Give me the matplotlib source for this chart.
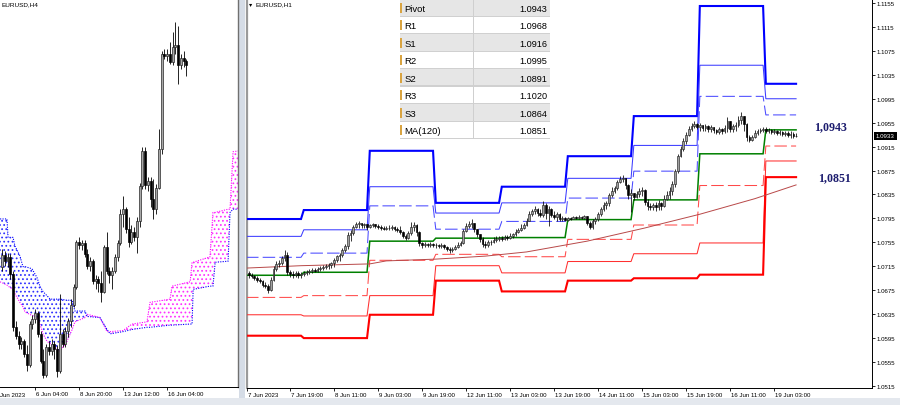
import numpy as np
import matplotlib
matplotlib.use("Agg")
import matplotlib.pyplot as plt
from matplotlib.patches import Rectangle
from matplotlib import transforms as mtrans

plt.rcParams['font.family'] = ['Liberation Sans', 'DejaVu Sans']
plt.rcParams['hatch.linewidth'] = 0.75

# ======================= DATA =======================
# ---- H4 panel (bar index 0 = 6 Jun 04:00) ----
h4_bar = list(range(-12, 56))
h4_open = [1.0753, 1.0764, 1.0758, 1.0762, 1.0746, 1.0697, 1.0689, 1.0682, 1.0684, 1.0672,
           1.0662, 1.0700, 1.0705, 1.0710, 1.0691, 1.0666, 1.0653, 1.0679, 1.0675, 1.0682,
           1.0677, 1.0657, 1.0691, 1.0682, 1.0694, 1.0703, 1.0718, 1.0734, 1.0776, 1.0773,
           1.0775, 1.0765, 1.0754, 1.0758, 1.0740, 1.0742, 1.0738, 1.0730, 1.0771, 1.0749,
           1.0745, 1.0749, 1.0762, 1.0775, 1.0802, 1.0806, 1.0788, 1.0776, 1.0785, 1.0780,
           1.0795, 1.0827, 1.0860, 1.0828, 1.0832, 1.0815, 1.0806, 1.0826, 1.0862, 1.0949,
           1.0947, 1.0949, 1.0942, 1.0956, 1.0958, 1.0939, 1.0946, 1.0943]
h4_close = [1.0764, 1.0758, 1.0762, 1.0746, 1.0697, 1.0689, 1.0682, 1.0684, 1.0672, 1.0662,
            1.0700, 1.0705, 1.0710, 1.0691, 1.0666, 1.0653, 1.0679, 1.0675, 1.0682, 1.0677,
            1.0657, 1.0691, 1.0682, 1.0694, 1.0703, 1.0718, 1.0734, 1.0776, 1.0773, 1.0775,
            1.0765, 1.0754, 1.0758, 1.0740, 1.0742, 1.0738, 1.0730, 1.0771, 1.0749, 1.0745,
            1.0749, 1.0762, 1.0775, 1.0802, 1.0806, 1.0788, 1.0776, 1.0785, 1.0780, 1.0795,
            1.0827, 1.0860, 1.0828, 1.0832, 1.0815, 1.0806, 1.0826, 1.0862, 1.0949, 1.0947,
            1.0949, 1.0942, 1.0956, 1.0958, 1.0939, 1.0946, 1.0943, 1.0939]
h4_high = [1.0769, 1.0767, 1.0766, 1.0765, 1.0749, 1.0703, 1.0694, 1.0688, 1.0686, 1.0681,
           1.0703, 1.0708, 1.0714, 1.0712, 1.0694, 1.0677, 1.0682, 1.0684, 1.0686, 1.0684,
           1.0681, 1.0728, 1.0695, 1.0697, 1.0706, 1.0723, 1.0737, 1.0778, 1.0780, 1.0778,
           1.0778, 1.0769, 1.0762, 1.0760, 1.0745, 1.0744, 1.0749, 1.0773, 1.0785, 1.0753,
           1.0753, 1.0765, 1.0778, 1.0806, 1.0818, 1.0808, 1.0799, 1.0791, 1.0790, 1.0799,
           1.0830, 1.0863, 1.0863, 1.0836, 1.0836, 1.0834, 1.0829, 1.0880, 1.0952, 1.0954,
           1.0954, 1.0960, 1.0970, 1.0979, 1.0975, 1.0949, 1.0952, 1.0945]
h4_low = [1.0749, 1.0754, 1.0753, 1.0742, 1.0694, 1.0686, 1.0677, 1.0677, 1.0670, 1.0657,
          1.0660, 1.0695, 1.0701, 1.0688, 1.0664, 1.0650, 1.0651, 1.0671, 1.0671, 1.0668,
          1.0651, 1.0655, 1.0679, 1.0679, 1.0688, 1.0697, 1.0716, 1.0732, 1.0769, 1.0768,
          1.0762, 1.0751, 1.0749, 1.0737, 1.0732, 1.0730, 1.0720, 1.0729, 1.0746, 1.0738,
          1.0732, 1.0747, 1.0758, 1.0773, 1.0790, 1.0784, 1.0771, 1.0774, 1.0777, 1.0766,
          1.0790, 1.0825, 1.0825, 1.0823, 1.0808, 1.0797, 1.0802, 1.0825, 1.0857, 1.0945,
          1.0943, 1.0940, 1.0939, 1.0949, 1.0922, 1.0935, 1.0937, 1.0929]

# Ichimoku cloud (Senkou span A = magenta, span B = blue)
cloud_bar = [-12.7, -10.2, -9.8, -8.0, -7.3, -5.5, -4.4, -3.6, -1.1, 0.7, 1.8, 2.9, 4.4, 5.5,
             6.2, 9.1, 11.6, 13.5, 14.5, 18.2, 18.9, 23.6, 26.2, 27.3, 32.0, 35.3, 40.7, 41.8,
             49.1, 49.8, 56.4, 57.1, 57.5, 63.6, 64.7, 65.5, 70.2, 70.9, 72.0, 74.5]
span_a = [1.0739, 1.0736, 1.0735, 1.0732, 1.0728, 1.0720, 1.0716, 1.0711, 1.0708, 1.0706,
          1.0700, 1.0691, 1.0684, 1.0682, 1.0680, 1.0675, 1.0684, 1.0695, 1.0702, 1.0706,
          1.0709, 1.0706, 1.0693, 1.0693, 1.0694, 1.0700, 1.0702, 1.0720, 1.0723, 1.0735,
          1.0739, 1.0757, 1.0757, 1.0762, 1.0803, 1.0803, 1.0806, 1.0806, 1.0859, 1.0860]
span_b = [1.0797, 1.0797, 1.0780, 1.0780, 1.0772, 1.0763, 1.0753, 1.0753, 1.0751, 1.0743,
          1.0735, 1.0730, 1.0726, 1.0723, 1.0723, 1.0723, 1.0722, 1.0722, 1.0712, 1.0712,
          1.0707, 1.0706, 1.0695, 1.0691, 1.0693, 1.0695, 1.0697, 1.0697, 1.0699, 1.0699,
          1.0700, 1.0700, 1.0732, 1.0735, 1.0735, 1.0757, 1.0758, 1.0803, 1.0806, 1.0806]

h4_tick_bars = [0, 16, 32, 48]
h4_tick_labels = ['6 Jun 04:00', '8 Jun 20:00', '13 Jun 12:00', '16 Jun 04:00']
h4_first_label = 'Jun 2023'

# ---- H1 panel (hour index: 0 = 7 Jun 00:00, weekend skipped) ----
h1_hour = list(range(4, 204))
h1_first_open = 1.0704
h1_close = [1.0701, 1.0699, 1.0696, 1.0692, 1.0691, 1.0684, 1.0682, 1.0675, 1.0692, 1.0711,
            1.0719, 1.0721, 1.0729, 1.0734, 1.0706, 1.0702, 1.0701, 1.0704, 1.0701, 1.0702,
            1.0704, 1.0706, 1.0707, 1.0709, 1.0707, 1.0711, 1.0712, 1.0714, 1.0716, 1.0717,
            1.0721, 1.0726, 1.0732, 1.0734, 1.0742, 1.0749, 1.0767, 1.0771, 1.0781, 1.0786,
            1.0787, 1.0784, 1.0786, 1.0781, 1.0784, 1.0786, 1.0782, 1.0781, 1.0779, 1.0777,
            1.0779, 1.0779, 1.0781, 1.0777, 1.0776, 1.0772, 1.0766, 1.0762, 1.0771, 1.0781,
            1.0784, 1.0772, 1.0754, 1.0751, 1.0752, 1.0751, 1.0752, 1.0751, 1.0751, 1.0749,
            1.0751, 1.0747, 1.0744, 1.0742, 1.0744, 1.0747, 1.0751, 1.0754, 1.0774, 1.0782,
            1.0786, 1.0787, 1.0777, 1.0769, 1.0761, 1.0752, 1.0751, 1.0756, 1.0756, 1.0759,
            1.0761, 1.0762, 1.0761, 1.0764, 1.0762, 1.0766, 1.0769, 1.0772, 1.0776, 1.0779,
            1.0784, 1.0791, 1.0802, 1.0808, 1.0811, 1.0804, 1.0801, 1.0818, 1.0804, 1.0811,
            1.0801, 1.0797, 1.0802, 1.0794, 1.0796, 1.0792, 1.0796, 1.0794, 1.0797, 1.0796,
            1.0797, 1.0796, 1.0799, 1.0787, 1.0781, 1.0791, 1.0794, 1.0802, 1.0811, 1.0818,
            1.0821, 1.0834, 1.0841, 1.0846, 1.0856, 1.0861, 1.0863, 1.0851, 1.0834, 1.0838,
            1.0831, 1.0836, 1.0841, 1.0843, 1.0823, 1.0816, 1.0814, 1.0818, 1.0814, 1.0821,
            1.0816, 1.0828, 1.0834, 1.0841, 1.0853, 1.0874, 1.0899, 1.0911, 1.0924, 1.0934,
            1.0945, 1.0950, 1.0953, 1.0948, 1.0951, 1.0946, 1.0950, 1.0945, 1.0948, 1.0943,
            1.0940, 1.0945, 1.0941, 1.0946, 1.0958, 1.0945, 1.0950, 1.0951, 1.0960, 1.0966,
            1.0953, 1.0931, 1.0926, 1.0931, 1.0938, 1.0941, 1.0943, 1.0945, 1.0941, 1.0943,
            1.0940, 1.0941, 1.0938, 1.0940, 1.0936, 1.0938, 1.0934, 1.0936, 1.0933, 1.0933]
h1_high = [1.0707, 1.0704, 1.0701, 1.0699, 1.0696, 1.0692, 1.0689, 1.0685, 1.0697, 1.0716,
           1.0724, 1.0726, 1.0732, 1.0742, 1.0739, 1.0709, 1.0707, 1.0707, 1.0707, 1.0706,
           1.0707, 1.0709, 1.0711, 1.0712, 1.0712, 1.0714, 1.0716, 1.0717, 1.0719, 1.0721,
           1.0722, 1.0729, 1.0734, 1.0737, 1.0746, 1.0752, 1.0772, 1.0776, 1.0784, 1.0789,
           1.0791, 1.0787, 1.0787, 1.0786, 1.0786, 1.0787, 1.0786, 1.0786, 1.0784, 1.0782,
           1.0782, 1.0784, 1.0784, 1.0782, 1.0781, 1.0782, 1.0774, 1.0769, 1.0774, 1.0789,
           1.0789, 1.0786, 1.0774, 1.0756, 1.0756, 1.0754, 1.0756, 1.0754, 1.0754, 1.0752,
           1.0754, 1.0752, 1.0749, 1.0747, 1.0747, 1.0751, 1.0756, 1.0757, 1.0777, 1.0787,
           1.0791, 1.0794, 1.0787, 1.0777, 1.0769, 1.0764, 1.0757, 1.0759, 1.0759, 1.0764,
           1.0766, 1.0766, 1.0766, 1.0767, 1.0767, 1.0771, 1.0771, 1.0777, 1.0779, 1.0786,
           1.0787, 1.0796, 1.0808, 1.0811, 1.0816, 1.0813, 1.0811, 1.0824, 1.0821, 1.0816,
           1.0813, 1.0808, 1.0806, 1.0804, 1.0799, 1.0797, 1.0797, 1.0797, 1.0799, 1.0799,
           1.0801, 1.0799, 1.0801, 1.0799, 1.0791, 1.0794, 1.0797, 1.0806, 1.0814, 1.0823,
           1.0824, 1.0838, 1.0848, 1.0849, 1.0859, 1.0866, 1.0868, 1.0863, 1.0853, 1.0844,
           1.0838, 1.0841, 1.0846, 1.0848, 1.0844, 1.0828, 1.0821, 1.0821, 1.0823, 1.0826,
           1.0823, 1.0834, 1.0841, 1.0848, 1.0858, 1.0878, 1.0903, 1.0916, 1.0929, 1.0940,
           1.0950, 1.0955, 1.0958, 1.0955, 1.0955, 1.0951, 1.0953, 1.0951, 1.0951, 1.0948,
           1.0945, 1.0948, 1.0946, 1.0951, 1.0965, 1.0951, 1.0953, 1.0956, 1.0966, 1.0973,
           1.0960, 1.0955, 1.0934, 1.0934, 1.0943, 1.0945, 1.0946, 1.0948, 1.0948, 1.0946,
           1.0945, 1.0945, 1.0943, 1.0943, 1.0941, 1.0941, 1.0941, 1.0941, 1.0940, 1.0938]
h1_low = [1.0696, 1.0696, 1.0692, 1.0689, 1.0687, 1.0680, 1.0679, 1.0670, 1.0674, 1.0691,
          1.0707, 1.0714, 1.0717, 1.0724, 1.0701, 1.0697, 1.0696, 1.0697, 1.0696, 1.0696,
          1.0699, 1.0701, 1.0702, 1.0704, 1.0706, 1.0706, 1.0707, 1.0709, 1.0711, 1.0711,
          1.0712, 1.0714, 1.0722, 1.0724, 1.0731, 1.0739, 1.0744, 1.0757, 1.0767, 1.0779,
          1.0779, 1.0779, 1.0779, 1.0776, 1.0779, 1.0781, 1.0779, 1.0777, 1.0776, 1.0776,
          1.0776, 1.0776, 1.0776, 1.0774, 1.0772, 1.0769, 1.0762, 1.0759, 1.0761, 1.0767,
          1.0774, 1.0766, 1.0749, 1.0746, 1.0747, 1.0747, 1.0747, 1.0747, 1.0746, 1.0746,
          1.0746, 1.0744, 1.0741, 1.0737, 1.0739, 1.0742, 1.0746, 1.0749, 1.0752, 1.0772,
          1.0779, 1.0779, 1.0772, 1.0764, 1.0756, 1.0747, 1.0746, 1.0747, 1.0751, 1.0754,
          1.0756, 1.0757, 1.0757, 1.0759, 1.0759, 1.0761, 1.0762, 1.0766, 1.0771, 1.0774,
          1.0777, 1.0782, 1.0791, 1.0799, 1.0802, 1.0799, 1.0797, 1.0797, 1.0794, 1.0782,
          1.0797, 1.0794, 1.0791, 1.0791, 1.0791, 1.0791, 1.0791, 1.0792, 1.0794, 1.0794,
          1.0794, 1.0794, 1.0794, 1.0784, 1.0777, 1.0777, 1.0786, 1.0791, 1.0799, 1.0808,
          1.0811, 1.0816, 1.0831, 1.0838, 1.0843, 1.0854, 1.0856, 1.0844, 1.0828, 1.0806,
          1.0826, 1.0829, 1.0831, 1.0833, 1.0818, 1.0809, 1.0809, 1.0809, 1.0808, 1.0809,
          1.0809, 1.0814, 1.0826, 1.0828, 1.0834, 1.0848, 1.0871, 1.0898, 1.0908, 1.0919,
          1.0933, 1.0941, 1.0946, 1.0945, 1.0941, 1.0941, 1.0941, 1.0940, 1.0940, 1.0938,
          1.0936, 1.0936, 1.0936, 1.0938, 1.0940, 1.0940, 1.0940, 1.0941, 1.0948, 1.0953,
          1.0941, 1.0924, 1.0923, 1.0924, 1.0929, 1.0934, 1.0938, 1.0940, 1.0938, 1.0938,
          1.0936, 1.0936, 1.0934, 1.0934, 1.0933, 1.0933, 1.0931, 1.0929, 1.0929, 1.0931]

# daily pivot levels (day start hour; 7,8,9,12,13,14,15,16,19 Jun)
day_start = [3, 24, 48, 72, 96, 120, 144, 168, 192]
last_hour = 203
lvl_R3 = [1.0794, 1.0809, 1.0908, 1.0821, 1.0848, 1.0899, 1.0966, 1.1150, 1.1020]
lvl_R2 = [1.0765, 1.0776, 1.0848, 1.0804, 1.0821, 1.0862, 1.0917, 1.1051, 1.0995]
lvl_R1 = [1.0730, 1.0737, 1.0816, 1.0777, 1.0790, 1.0829, 1.0874, 1.0999, 1.0968]
lvl_P = [1.0700, 1.0705, 1.0757, 1.0762, 1.0763, 1.0793, 1.0826, 1.0903, 1.0943]
lvl_S1 = [1.0663, 1.0666, 1.0725, 1.0735, 1.0731, 1.0760, 1.0784, 1.0850, 1.0916]
lvl_S2 = [1.0634, 1.0632, 1.0666, 1.0716, 1.0704, 1.0723, 1.0736, 1.0754, 1.0891]
lvl_S3 = [1.0599, 1.0595, 1.0634, 1.0691, 1.0673, 1.0691, 1.0695, 1.0701, 1.0864]

ma_hour = [3, 23, 48, 54, 72, 90, 105, 127, 148, 154, 168, 188, 203]
ma_value = [1.0712, 1.0716, 1.0719, 1.0724, 1.0727, 1.0732, 1.0739, 1.0757, 1.0779, 1.0786,
            1.0802, 1.0828, 1.0851]

h1_tick_hours = [3.4, 19, 35, 51, 67, 83, 99, 115, 131, 147, 163, 179, 195]
h1_tick_labels = ['7 Jun 2023', '7 Jun 19:00', '8 Jun 11:00', '9 Jun 03:00', '9 Jun 19:00',
                  '12 Jun 11:00', '13 Jun 03:00', '13 Jun 19:00', '14 Jun 11:00',
                  '15 Jun 03:00', '15 Jun 19:00', '16 Jun 11:00', '19 Jun 03:00']
price_ticks = [1.0515, 1.0555, 1.0595, 1.0635, 1.0675, 1.0715, 1.0755, 1.0795, 1.0835,
               1.0875, 1.0915, 1.0955, 1.0995, 1.1035, 1.1075, 1.1115, 1.1155]
current_price = 1.0933

table_labels = ['Pivot', 'R1', 'S1', 'R2', 'S2', 'R3', 'S3', 'MA(120)']
table_values = ['1.0943', '1.0968', '1.0916', '1.0995', '1.0891', '1.1020', '1.0864', '1.0851']
note_pivot = '1,0943'
note_ma = '1,0851'

# ======================= FIGURE =======================
W, H = 900, 406
fig = plt.figure(figsize=(W / 100, H / 100), dpi=100)
fig.patch.set_facecolor('white')


def fx(x):
    return x / W


def fy(y):
    return 1 - y / H


def draw_candles(ax, xs, o, c, hi, lo, width, bull_face, lw):
    xs = np.asarray(xs, float)
    o = np.asarray(o); c = np.asarray(c)
    hi = np.maximum(np.asarray(hi), np.maximum(o, c))
    lo = np.minimum(np.asarray(lo), np.minimum(o, c))
    ax.vlines(xs, lo, hi, color='black', lw=lw, zorder=5)
    bull = c >= o
    bottoms = np.minimum(o, c)
    heights = np.abs(c - o)
    ax.bar(xs[bull], heights[bull], bottom=bottoms[bull], width=width,
           color=bull_face, edgecolor='#202020', linewidth=lw * 0.8, zorder=6)
    ax.bar(xs[~bull], heights[~bull], bottom=bottoms[~bull], width=width,
           color='black', edgecolor='black', linewidth=lw * 0.8, zorder=6)


tick_font = 4.4

# ---------------- left panel (H4) ----------------
axL = fig.add_axes([0, 18 / H, 238 / W, 388 / H])
axL.set_facecolor('white')
axL.set_xlim(-12.73, 73.8)
axL.set_ylim(1.06419, 1.1000)
a = np.array(span_a); b = np.array(span_b)
axL.fill_between(cloud_bar, a, b, where=b >= a, interpolate=True, facecolor='none',
                 edgecolor='#3030ff', hatch='....', linewidth=0, zorder=1)
axL.fill_between(cloud_bar, a, b, where=a >= b, interpolate=True, facecolor='none',
                 edgecolor='#ff30ff', hatch='....', linewidth=0, zorder=1)
axL.plot(cloud_bar, span_a, color='#ff00ff', lw=0.8, ls=(0, (1, 1.2)), zorder=2)
axL.plot(cloud_bar, span_b, color='#0000ff', lw=0.8, ls=(0, (1, 1.2)), zorder=2)
draw_candles(axL, h4_bar, h4_open, h4_close, h4_high, h4_low, 0.72, '#a8a8a8', 0.6)
axL.set_yticks([])
axL.set_xticks(h4_tick_bars)
axL.set_xticklabels(h4_tick_labels)
axL.tick_params(axis='x', direction='out', length=2.2, width=0.6, labelsize=tick_font, pad=0.8)
off = mtrans.ScaledTranslation(1.2 / 100, 0, fig.dpi_scale_trans)
for lbl in axL.get_xticklabels():
    lbl.set_ha('left')
    lbl.set_transform(lbl.get_transform() + off)
for s in ['top', 'left']:
    axL.spines[s].set_visible(False)
axL.spines['right'].set_color('#707070')
axL.spines['right'].set_linewidth(1.0)
axL.spines['bottom'].set_color('black')
axL.spines['bottom'].set_linewidth(0.7)
axL.text(0.002, -0.012, h4_first_label, transform=axL.transAxes,
         ha='left', va='top', fontsize=tick_font, clip_on=False)

# ---------------- right panel (H1) ----------------
ax = fig.add_axes([247 / W, 17 / H, 625 / W, 389 / H])
ax.set_facecolor('white')
ax.set_xlim(3.36, 230.6)
ax.set_ylim(1.05116, 1.11617)

hours = np.arange(day_start[0], last_hour + 1)
didx = np.searchsorted(day_start, hours, side='right') - 1


def level_line(levels, color, lw, ls='-'):
    ax.plot(hours, np.asarray(levels)[didx], color=color, lw=lw, ls=ls, zorder=3,
            solid_joinstyle='miter')


level_line(lvl_R3, '#0000ff', 1.5)
level_line(lvl_R2, '#3c3cff', 0.75)
level_line(lvl_R1, '#4a4aff', 0.75, (0, (12, 4)))
level_line(lvl_P, '#008000', 1.1)
level_line(lvl_S1, '#ff4a4a', 0.75, (0, (12, 4)))
level_line(lvl_S2, '#ff3030', 0.75)
level_line(lvl_S3, '#ff0000', 1.5)
ax.plot(ma_hour, ma_value, color='#b84848', lw=0.7, zorder=3)

h1_open = [h1_first_open] + h1_close[:-1]
draw_candles(ax, h1_hour, h1_open, h1_close, h1_high, h1_low, 0.6, '#a0a0a0', 0.55)

ax.yaxis.tick_right()
ax.set_yticks(price_ticks)
ax.set_yticklabels([f'{v:.4f}' for v in price_ticks])
ax.set_xticks(h1_tick_hours)
ax.set_xticklabels(h1_tick_labels)
ax.tick_params(axis='y', direction='out', length=2.0, width=0.6, labelsize=tick_font, pad=1.4)
ax.tick_params(axis='x', direction='out', length=2.2, width=0.6, labelsize=tick_font, pad=0.8)
for lbl in ax.get_xticklabels():
    lbl.set_ha('left')
    lbl.set_transform(lbl.get_transform() + off)
ax.spines['top'].set_visible(False)
ax.spines['left'].set_color('#9a9a9a')
ax.spines['left'].set_linewidth(1.6)
ax.spines['right'].set_color('black')
ax.spines['right'].set_linewidth(0.7)
ax.spines['bottom'].set_color('black')
ax.spines['bottom'].set_linewidth(0.7)

ax.text(215.7, 1.09495, note_pivot, ha='center', va='center', fontsize=8.6,
        family=['Liberation Serif', 'DejaVu Serif'], weight='bold', color='#1c1c6e', zorder=8)
ax.text(216.8, 1.08642, note_ma, ha='center', va='center', fontsize=8.6,
        family=['Liberation Serif', 'DejaVu Serif'], weight='bold', color='#1c1c6e', zorder=8)

bt = mtrans.blended_transform_factory(ax.transAxes, ax.transData)
ax.text(1.0 + 4 / 625, current_price, f'{current_price:.4f}', transform=bt, ha='left', va='center',
        fontsize=tick_font, color='white', clip_on=False, zorder=9,
        bbox=dict(boxstyle='square,pad=0.3', fc='black', ec='black', lw=0))

# ---------------- frame decorations ----------------
fig.add_artist(Rectangle((fx(239), 0), 6 / W, 1, transform=fig.transFigure,
                         facecolor='#d5dce6', edgecolor='none', zorder=0))
fig.add_artist(Rectangle((0, 0), 1, 7 / H, transform=fig.transFigure,
                         facecolor='#e4e8ee', edgecolor='none', zorder=0))

fig.text(fx(2), fy(5), 'EURUSD,H4', fontsize=4.6, va='center', ha='left')
fig.text(fx(249), fy(5), '\u25BE', fontsize=4.6, va='center', ha='left', family='DejaVu Sans')
fig.text(fx(255), fy(5), 'EURUSD,H1', fontsize=4.6, va='center', ha='left')

# ---------------- info table ----------------
row_h = 17.5
tx0, tx1, tcol = 400, 550, 473
for i, (lab, val) in enumerate(zip(table_labels, table_values)):
    top = i * row_h
    face = '#e6e6e6' if i % 2 == 0 else '#ffffff'
    fig.add_artist(Rectangle((fx(tx0), fy(top + row_h)), (tx1 - tx0) / W, row_h / H,
                             transform=fig.transFigure, facecolor=face, edgecolor='none', zorder=10))
    fig.add_artist(Rectangle((fx(tx0), fy(top + row_h)), (tx1 - tx0) / W, 1 / H,
                             transform=fig.transFigure, facecolor='#d0d0d0', edgecolor='none', zorder=11))
    fig.add_artist(Rectangle((fx(tx0), fy(top + 13.5)), 1.6 / W, 10 / H,
                             transform=fig.transFigure, facecolor='#d9a441', edgecolor='none', zorder=11))
    cy = top + row_h / 2 + 0.5
    fig.text(fx(404.5), fy(cy), lab, fontsize=6.8, va='center', ha='left', zorder=12)
    fig.text(fx(547), fy(cy), val, fontsize=6.6, va='center', ha='right', zorder=12)
fig.add_artist(Rectangle((fx(tcol), fy(8 * row_h)), 1 / W, 8 * row_h / H,
                         transform=fig.transFigure, facecolor='#cfcfcf', edgecolor='none', zorder=11))

fig.savefig('out.png', dpi=100, facecolor='white')
